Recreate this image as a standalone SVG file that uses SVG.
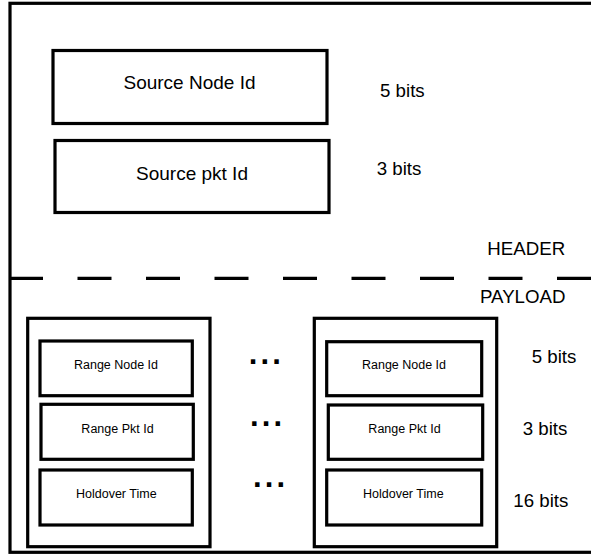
<svg xmlns="http://www.w3.org/2000/svg" width="591" height="554" viewBox="0 0 591 554">
<style>
.box{fill:#fff;stroke:#000;stroke-width:3.2}
.big{font-family:"Liberation Sans",Arial,Helvetica,sans-serif;font-size:19px;fill:#000}
.lab{font-family:"Liberation Sans",Arial,Helvetica,sans-serif;font-size:18.7px;fill:#000}
.small{font-family:"Liberation Sans",Arial,Helvetica,sans-serif;font-size:12.5px;fill:#000;text-anchor:middle}
.dots{font-family:"Liberation Sans",Arial,Helvetica,sans-serif;font-size:31px;font-weight:bold;letter-spacing:3.1px;fill:#000}
</style>
<rect width="591" height="554" fill="#fff"/>
<g id="frame">
<rect x="10" y="3.3" width="600" height="549" fill="none" stroke="#000" stroke-width="3.2"/>
</g>
<g id="connectors">
<line x1="9" y1="278.3" x2="591" y2="278.3" stroke="#000" stroke-width="3.2" stroke-dasharray="34 34.5"/>
</g>
<g id="source-node-id">
<rect class="box" x="53" y="50.5" width="274" height="73"/>
<text class="big" x="189.5" y="89" text-anchor="middle">Source Node Id</text>
</g>
<g id="source-pkt-id">
<rect class="box" x="55" y="140.5" width="274" height="72"/>
<text class="big" x="192" y="179.5" text-anchor="middle">Source pkt Id</text>
</g>
<g id="header-labels">
<text class="lab" x="380" y="96.7">5 bits</text>
<text class="lab" x="376.7" y="175">3 bits</text>
<text class="lab" x="487.3" y="255">HEADER</text>
<text class="lab" x="480" y="302.7">PAYLOAD</text>
</g>
<g id="range-entry-1">
<rect class="box" x="27.7" y="318.3" width="182.3" height="228.4"/>
<g id="range-node-id-1"><rect class="box" x="40" y="341" width="152.3" height="54.7"/><text class="small" x="116" y="369.3">Range Node Id</text></g>
<g id="range-pkt-id-1"><rect class="box" x="41" y="404.3" width="152.3" height="55"/><text class="small" x="117.5" y="432.7">Range Pkt Id</text></g>
<g id="holdover-time-1"><rect class="box" x="40" y="470" width="152.3" height="55"/><text class="small" x="116.3" y="498.3">Holdover Time</text></g>
</g>
<g id="ellipses">
<text class="dots" x="248.8" y="364.3">...</text>
<text class="dots" x="250.1" y="426">...</text>
<text class="dots" x="253.1" y="486.7">...</text>
</g>
<g id="range-entry-n">
<rect class="box" x="314.3" y="318.3" width="182.4" height="228.4"/>
<g id="range-node-id-n"><rect class="box" x="326.7" y="341.7" width="155" height="54"/><text class="small" x="404" y="369.3">Range Node Id</text></g>
<g id="range-pkt-id-n"><rect class="box" x="328.3" y="405" width="154.4" height="54.3"/><text class="small" x="404.5" y="432.7">Range Pkt Id</text></g>
<g id="holdover-time-n"><rect class="box" x="326.7" y="470" width="155" height="55"/><text class="small" x="403.3" y="498.3">Holdover Time</text></g>
</g>
<g id="payload-labels">
<text class="lab" x="531.7" y="363">5 bits</text>
<text class="lab" x="522.7" y="435">3 bits</text>
<text class="lab" x="513.3" y="506.7">16 bits</text>
</g>
</svg>
